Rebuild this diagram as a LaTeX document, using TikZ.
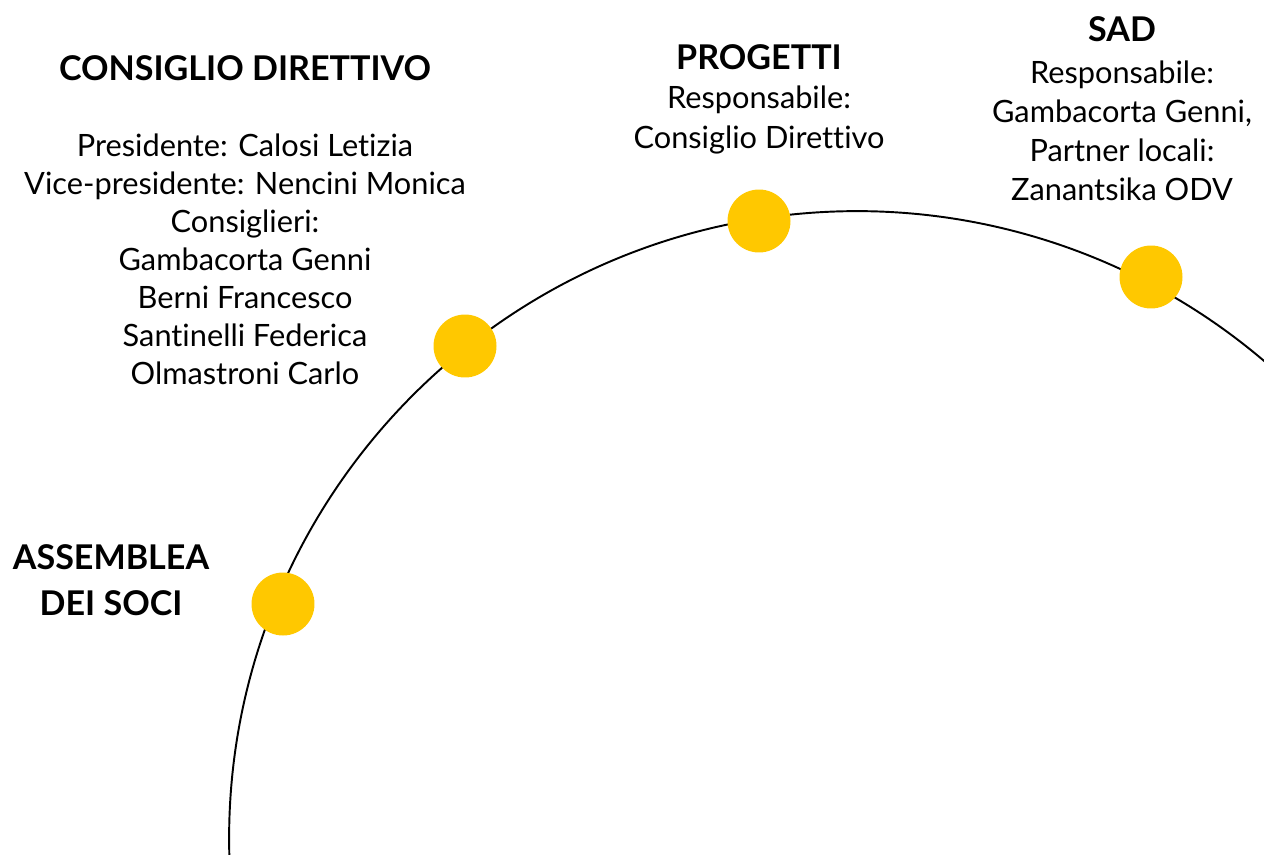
\documentclass[tikz,border=0pt]{standalone}
\usepackage{fontspec}
\setmainfont[Ligatures=NoCommon]{Lato}
\definecolor{dotyellow}{RGB}{255,200,0}
\tikzset{
  dot/.style={circle, fill=dotyellow, minimum size=1.26cm, inner sep=0pt},
  title/.style={font=\bfseries\fontsize{19.4}{26}\selectfont, align=center},
  info/.style={font=\fontsize{17.5}{21.6}\selectfont, align=center},
  infowide/.style={info, font=\fontsize{17.5}{22.3}\selectfont}
}

\begin{document}
\begin{tikzpicture}[x=0.02cm, y=-0.02cm]
\useasboundingbox (0,0) rectangle (1264,855);
\clip (0,0) rectangle (1264,855);
\coordinate (centre) at (857,839);
\draw [line width=1.1pt] (centre) ++(183:12.56cm) arc[start angle=183, end angle=47, radius=12.56cm];
\node[dot] (assemblea) at (283,604) {};
\node[dot] (consiglio) at (465,346) {};
\node[dot] (progetti) at (759,221) {};
\node[dot] (sad) at (1151,277) {};
\node[title] (assembleat) at (111,580) {ASSEMBLEA\\DEI SOCI};
\node[title] (consigliot) at (245,68) {CONSIGLIO DIRETTIVO};
\node[info] (consiglioi) at (245,259) {Presidente: Calosi Letizia\\Vice-presidente: Nencini Monica\\Consiglieri:\\Gambacorta Genni\\Berni Francesco\\Santinelli Federica\\Olmastroni Carlo};
\node[title] (progettit) at (759,57) {PROGETTI};
\node[infowide] (progettii) at (759,120) {Responsabile:\\Consiglio Direttivo};
\node[title] (sadt) at (1122,29) {SAD};
\node[infowide] (sadi) at (1122,131) {Responsabile:\\Gambacorta Genni,\\Partner locali:\\Zanantsika ODV};
\end{tikzpicture}
\end{document}
